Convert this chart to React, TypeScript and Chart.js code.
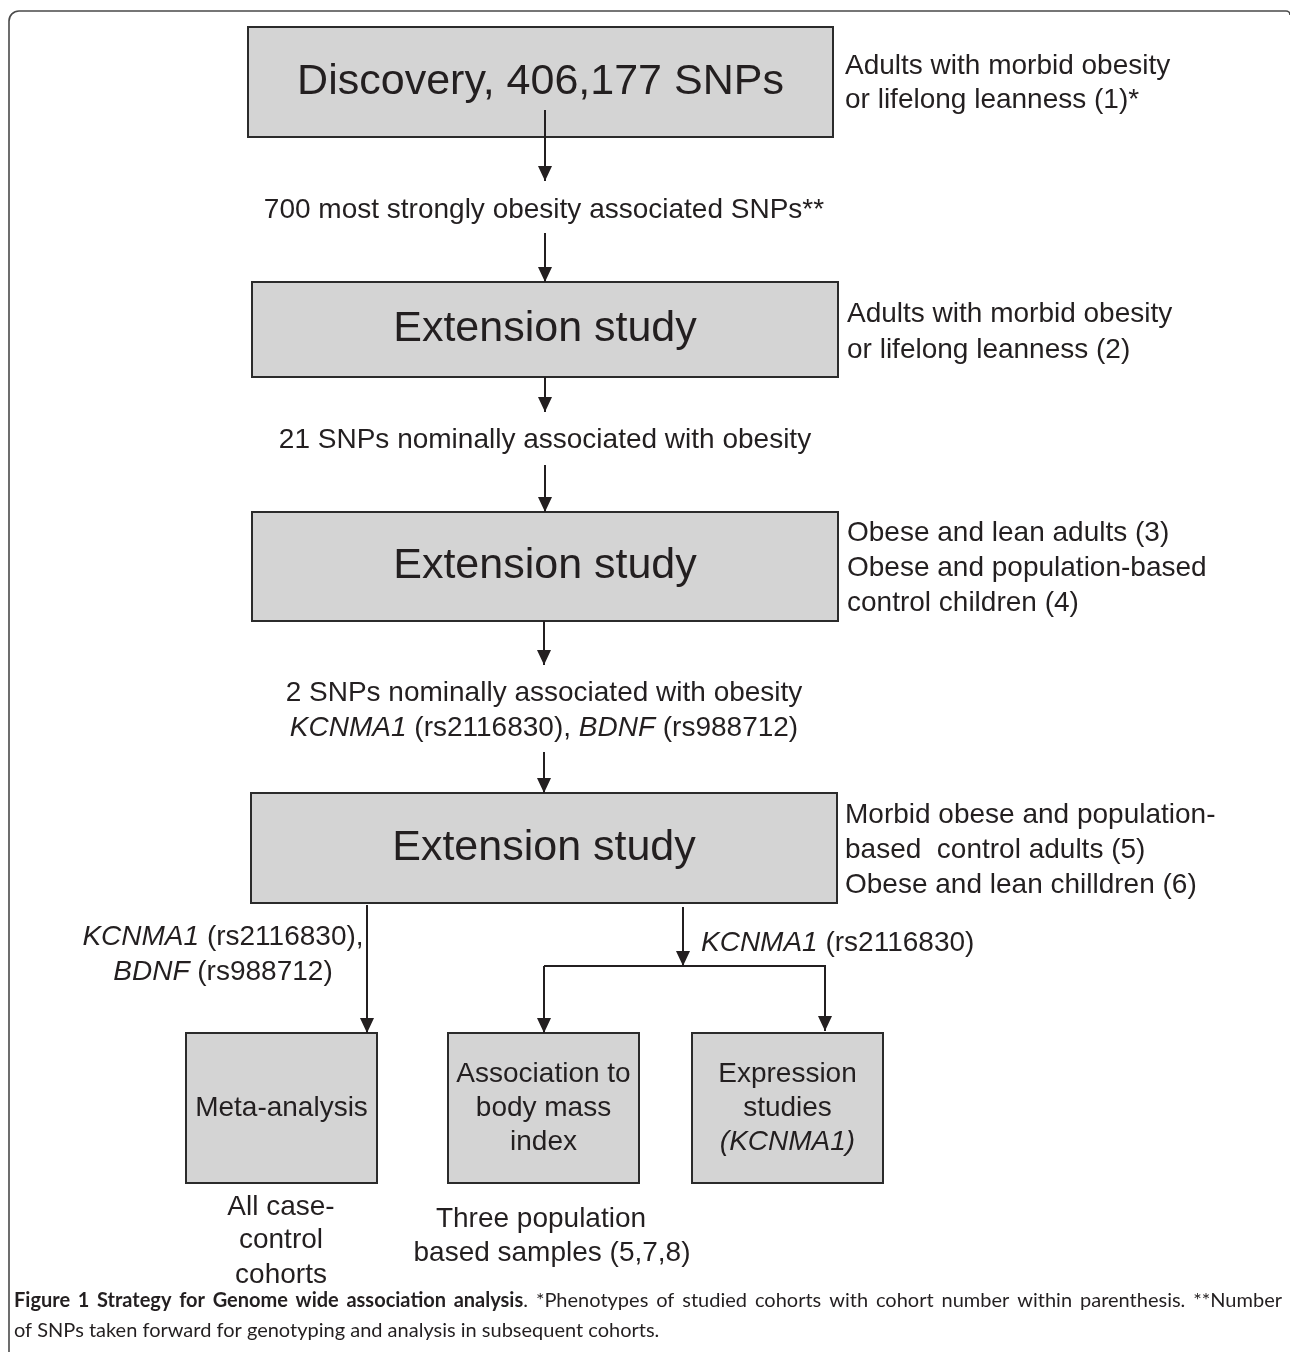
import React, { useEffect, useRef } from "react";
import { Chart, registerables } from "chart.js";

Chart.register(...registerables);

const FIG_FONT = '"Liberation Sans", Arial, sans-serif';
const CAP_FONT = 'Lato, "Open Sans", sans-serif';
const INK = "#231f20";
const BOX_FILL = "#d4d4d4";

// ---------- diagram content ----------
const boxLabels: string[][] = [
  ["Discovery, 406,177 SNPs"],
  ["Extension study"],
  ["Extension study"],
  ["Extension study"],
  ["Meta-analysis"],
  ["Association to", "body mass", "index"],
  ["Expression", "studies", "_(KCNMA1)_"],
];

const sideNotes: string[][] = [
  ["Adults with morbid obesity", "or lifelong leanness (1)*"],
  ["Adults with morbid obesity", "or lifelong leanness (2)"],
  ["Obese and lean adults (3)", "Obese and population-based", "control children (4)"],
  ["Morbid obese and population-", "based  control adults (5)", "Obese and lean chilldren (6)"],
];

const flowLabels: string[] = [
  "700 most strongly obesity associated SNPs**",
  "21 SNPs nominally associated with obesity",
  "2 SNPs nominally associated with obesity",
  "_KCNMA1_ (rs2116830), _BDNF_ (rs988712)",
  "_KCNMA1_ (rs2116830),",
  "_BDNF_ (rs988712)",
  "_KCNMA1_ (rs2116830)",
  "All case-",
  "control",
  "cohorts",
  "Three population",
  "based samples (5,7,8)",
];

const captionBold = "Figure 1 Strategy for Genome wide association analysis";
const captionRest1 = ". *Phenotypes of studied cohorts with cohort number within parenthesis. **Number";
const captionLine2 = "of SNPs taken forward for genotyping and analysis in subsequent cohorts.";

// ---------- layout (diagram coordinates) ----------
const boxLeft = [248, 252, 252, 251, 186, 448, 692];
const boxRight = [833, 838, 838, 837, 377, 639, 883];
const boxTop = [27, 282, 512, 793, 1033, 1033, 1033];
const boxBottom = [137, 377, 621, 903, 1183, 1183, 1183];
const boxFontSize = [43, 43, 43, 43, 28, 28, 28];

const sideX = [845, 847, 847, 845];
const sideY: number[][] = [
  [66, 100],
  [314, 350],
  [533, 568, 603],
  [815, 850, 885],
];

const flowX = [544, 545, 544, 544, 223, 223, 701, 281, 281, 281, 541, 552];
const flowY = [210, 440, 693, 728, 937, 972, 943, 1207, 1240, 1275, 1219, 1253];
const flowAlign = ["center", "center", "center", "center", "center", "center", "left", "center", "center", "center", "center", "center"];

const connectors: number[][][] = [
  [[545, 110], [545, 181]],
  [[545, 233], [545, 282]],
  [[545, 377], [545, 412]],
  [[545, 465], [545, 512]],
  [[544, 621], [544, 665]],
  [[544, 752], [544, 793]],
  [[367, 905], [367, 1033]],
  [[683, 907], [683, 966]],
  [[544, 966], [544, 1033]],
  [[544, 966], [825, 966], [825, 1031]],
];

const frameLeft = 9;
const frameTop = 11;
const frameRight = 1290;
const captionLeft = 14;
const captionRight = 1282;
const captionY = [1301, 1331];
const captionSize = 20;

const W = 1290;
const H = 1352;

function richSegments(s: string) {
  return s
    .split("_")
    .map((t, i) => ({ t, it: i % 2 === 1 }))
    .filter((p) => p.t.length > 0);
}

function drawRich(ctx: CanvasRenderingContext2D, s: string, x: number, y: number, size: number, align: string) {
  const segs = richSegments(s);
  const font = (it: boolean) => `${it ? "italic " : ""}${size}px ${FIG_FONT}`;
  let total = 0;
  for (const p of segs) {
    ctx.font = font(p.it);
    total += ctx.measureText(p.t).width;
  }
  let cx = align === "center" ? x - total / 2 : align === "right" ? x - total : x;
  ctx.textAlign = "left";
  ctx.textBaseline = "middle";
  ctx.fillStyle = INK;
  for (const p of segs) {
    ctx.font = font(p.it);
    ctx.fillText(p.t, cx, y);
    cx += ctx.measureText(p.t).width;
  }
}

function drawJustified(
  ctx: CanvasRenderingContext2D,
  segs: { t: string; b: boolean }[],
  x0: number,
  x1: number,
  y: number,
  size: number,
  justify: boolean
) {
  const font = (b: boolean) => `${b ? "bold " : ""}${size}px ${CAP_FONT}`;
  let natural = 0;
  let spaces = 0;
  for (const s of segs) {
    ctx.font = font(s.b);
    natural += ctx.measureText(s.t).width;
    spaces += (s.t.match(/ /g) || []).length;
  }
  const extra = justify && spaces > 0 ? (x1 - x0 - natural) / spaces : 0;
  let cx = x0;
  ctx.textAlign = "left";
  ctx.textBaseline = "middle";
  ctx.fillStyle = INK;
  for (const s of segs) {
    ctx.font = font(s.b);
    const pieces = s.t.split(" ");
    pieces.forEach((piece, i) => {
      if (piece.length) {
        ctx.fillText(piece, cx, y);
        cx += ctx.measureText(piece).width;
      }
      if (i < pieces.length - 1) {
        cx += ctx.measureText(" ").width + extra;
      }
    });
  }
}

const diagramPlugin = {
  id: "diagram",
  beforeDatasetsDraw(chart: any) {
    const ctx: CanvasRenderingContext2D = chart.ctx;
    const sx = (v: number) => chart.scales.x.getPixelForValue(v);
    const sy = (v: number) => chart.scales.y.getPixelForValue(v);
    ctx.save();
    // frame
    const r = 10;
    ctx.strokeStyle = "#4a4a4a";
    ctx.lineWidth = 1.6;
    ctx.beginPath();
    ctx.moveTo(sx(frameLeft), sy(H));
    ctx.lineTo(sx(frameLeft), sy(frameTop + r));
    ctx.arcTo(sx(frameLeft), sy(frameTop), sx(frameLeft + r), sy(frameTop), r);
    ctx.lineTo(sx(frameRight - 4), sy(frameTop));
    ctx.arcTo(sx(frameRight), sy(frameTop), sx(frameRight), sy(frameTop + r), 4);
    ctx.stroke();
    // boxes
    for (let i = 0; i < boxLabels.length; i++) {
      const x0 = sx(boxLeft[i]);
      const x1 = sx(boxRight[i]);
      const y0 = sy(boxTop[i]);
      const y1 = sy(boxBottom[i]);
      ctx.fillStyle = BOX_FILL;
      ctx.fillRect(x0, y0, x1 - x0, y1 - y0);
      ctx.strokeStyle = "#2b2b2b";
      ctx.lineWidth = 2;
      ctx.strokeRect(x0, y0, x1 - x0, y1 - y0);
    }
    ctx.restore();
  },
  afterDatasetsDraw(chart: any) {
    const ctx: CanvasRenderingContext2D = chart.ctx;
    const sx = (v: number) => chart.scales.x.getPixelForValue(v);
    const sy = (v: number) => chart.scales.y.getPixelForValue(v);
    ctx.save();
    // arrow heads
    ctx.fillStyle = INK;
    for (const pts of connectors) {
      const [tx, ty] = pts[pts.length - 1];
      const [px, py] = pts[pts.length - 2];
      const X = sx(tx), Y = sy(ty);
      const dx = X - sx(px), dy = Y - sy(py);
      const len = Math.hypot(dx, dy) || 1;
      const ux = dx / len, uy = dy / len;
      const L = 15, hw = 7;
      ctx.beginPath();
      ctx.moveTo(X, Y);
      ctx.lineTo(X - ux * L - uy * hw, Y - uy * L + ux * hw);
      ctx.lineTo(X - ux * L + uy * hw, Y - uy * L - ux * hw);
      ctx.closePath();
      ctx.fill();
    }
    // box labels
    for (let i = 0; i < boxLabels.length; i++) {
      const cx = sx((boxLeft[i] + boxRight[i]) / 2);
      const cy = (boxTop[i] + boxBottom[i]) / 2;
      const lines = boxLabels[i];
      const lh = 34;
      lines.forEach((ln, j) => {
        const y = cy + (j - (lines.length - 1) / 2) * lh;
        drawRich(ctx, ln, cx, sy(y), boxFontSize[i], "center");
      });
    }
    // side notes
    sideNotes.forEach((lines, i) => {
      lines.forEach((ln, j) => drawRich(ctx, ln, sx(sideX[i]), sy(sideY[i][j]), 28, "left"));
    });
    // flow labels
    flowLabels.forEach((ln, i) => drawRich(ctx, ln, sx(flowX[i]), sy(flowY[i]), 28, flowAlign[i]));
    // caption
    drawJustified(
      ctx,
      [
        { t: captionBold, b: true },
        { t: captionRest1, b: false },
      ],
      sx(captionLeft),
      sx(captionRight),
      sy(captionY[0]),
      captionSize,
      true
    );
    drawJustified(ctx, [{ t: captionLine2, b: false }], sx(captionLeft), sx(captionRight), sy(captionY[1]), captionSize, false);
    ctx.restore();
  },
};

export default function App() {
  const ref = useRef<HTMLCanvasElement | null>(null);
  useEffect(() => {
    if (!ref.current) return;
    const chart = new Chart(ref.current, {
      type: "scatter",
      data: {
        datasets: connectors.map((pts) => ({
          data: pts.map(([x, y]) => ({ x, y })),
          showLine: true,
          borderColor: INK,
          borderWidth: 2,
          pointRadius: 0,
          pointHoverRadius: 0,
          fill: false,
          tension: 0,
        })),
      },
      options: {
        animation: false,
        responsive: true,
        maintainAspectRatio: false,
        layout: { padding: 0 },
        events: [],
        scales: {
          x: { type: "linear", min: 0, max: W, display: false },
          y: { type: "linear", min: 0, max: H, reverse: true, display: false },
        },
        plugins: {
          legend: { display: false },
          tooltip: { enabled: false },
          title: { display: false },
        },
      },
      plugins: [diagramPlugin],
    } as any);
    return () => chart.destroy();
  }, []);
  return (
    <div style={{ position: "absolute", left: 0, top: 0, width: W, height: H, background: "#fff" }}>
      <canvas ref={ref} />
    </div>
  );
}
